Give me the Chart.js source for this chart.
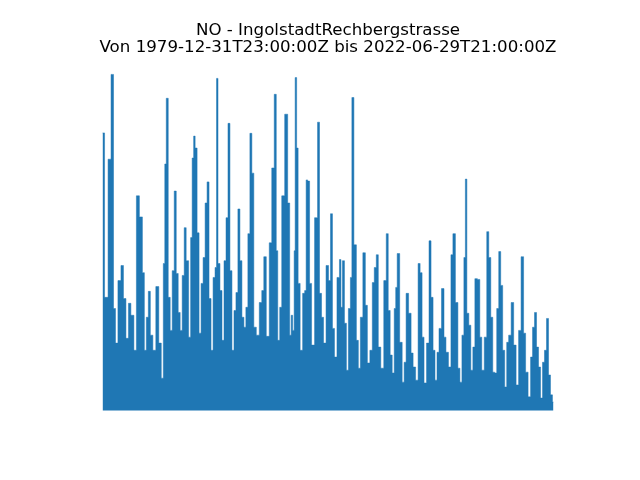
<!DOCTYPE html>
<html>
<head>
<meta charset="utf-8">
<script src="https://cdn.jsdelivr.net/npm/chart.js@4"></script>
<style>
  body { margin: 0; background: #fff; }
  #wrap { width: 640px; height: 480px; }
</style>
</head>
<body>
<div id="wrap"><canvas id="noChart" width="640" height="480"></canvas></div>
<script>
// Title lines
const titleLines = [
  "NO - IngolstadtRechbergstrasse",
  "Von 1979-12-31T23:00:00Z bis 2022-06-29T21:00:00Z"
];

// Upper outline of the hourly NO series (decimal year, value)
const noYears = [
  1980.00, 1980.38, 1980.66, 1980.94, 1981.13, 1981.31, 1981.59, 1981.88, 1982.06, 1982.35,
  1982.53, 1982.81, 1983.10, 1983.28, 1983.66, 1983.85, 1984.03, 1984.22, 1984.41, 1984.60,
  1984.88, 1985.16, 1985.44, 1985.63, 1985.82, 1985.91, 1986.10, 1986.28, 1986.47, 1986.66,
  1986.85, 1987.04, 1987.22, 1987.41, 1987.60, 1987.79, 1987.97, 1988.25, 1988.35, 1988.54,
  1988.63, 1988.82, 1989.00, 1989.19, 1989.38, 1989.57, 1989.76, 1989.94, 1990.13, 1990.32,
  1990.51, 1990.69, 1990.79, 1990.97, 1991.16, 1991.35, 1991.54, 1991.73, 1991.91, 1992.10,
  1992.29, 1992.48, 1992.66, 1992.85, 1993.04, 1993.23, 1993.41, 1993.60, 1993.79, 1993.98,
  1994.16, 1994.35, 1994.63, 1994.91, 1995.10, 1995.29, 1995.57, 1995.85, 1996.04, 1996.32,
  1996.42, 1996.60, 1996.79, 1996.98, 1997.35, 1997.54, 1997.73, 1997.82, 1998.01, 1998.10,
  1998.20, 1998.38, 1998.48, 1998.76, 1998.95, 1999.14, 1999.23, 1999.42, 1999.60, 1999.79,
  2000.17, 2000.35, 2000.54, 2000.73, 2000.92, 2001.20, 2001.39, 2001.57, 2001.76, 2001.95,
  2002.23, 2002.42, 2002.51, 2002.70, 2002.89, 2003.07, 2003.26, 2003.45, 2003.54, 2003.83,
  2004.01, 2004.20, 2004.39, 2004.67, 2004.86, 2005.05, 2005.33, 2005.51, 2005.70, 2005.89,
  2006.08, 2006.36, 2006.64, 2006.83, 2007.01, 2007.20, 2007.39, 2007.58, 2007.67, 2007.86,
  2008.14, 2008.33, 2008.51, 2008.70, 2008.98, 2009.17, 2009.36, 2009.64, 2009.83, 2010.02,
  2010.20, 2010.39, 2010.67, 2010.86, 2011.05, 2011.24, 2011.42, 2011.61, 2011.80, 2012.08,
  2012.27, 2012.45, 2012.74, 2012.92, 2013.11, 2013.39, 2013.58, 2013.77, 2013.96, 2014.14,
  2014.24, 2014.42, 2014.61, 2014.80, 2014.99, 2015.18, 2015.46, 2015.64, 2015.83, 2016.11,
  2016.30, 2016.49, 2016.68, 2016.86, 2017.05, 2017.24, 2017.43, 2017.61, 2017.80, 2017.99,
  2018.18, 2018.36, 2018.65, 2018.83, 2019.11, 2019.30, 2019.58, 2019.77, 2019.96, 2020.24,
  2020.43, 2020.61, 2020.80, 2020.99, 2021.18, 2021.37, 2021.55, 2021.74, 2021.93, 2022.12,
  2022.30, 2022.49
];
const noValues = [
  697, 284, 631, 844, 256, 169, 326, 364, 281, 181,
  269, 239, 151, 539, 486, 346, 151, 234, 299, 189,
  151, 311, 169, 81, 369, 619, 784, 284, 201, 351,
  551, 344, 246, 201, 339, 459, 376, 184, 434, 634,
  689, 659, 446, 194, 319, 384, 521, 574, 281, 151,
  334, 359, 834, 369, 301, 176, 376, 484, 721, 351,
  151, 251, 296, 506, 376, 234, 209, 259, 444, 696,
  596, 209, 189, 271, 301, 386, 186, 421, 609, 794,
  401, 176, 259, 539, 744, 521, 189, 239, 201, 401,
  836, 659, 319, 151, 294, 301, 579, 576, 319, 164,
  484, 724, 294, 234, 169, 364, 326, 494, 206, 134,
  334, 379, 259, 376, 219, 101, 256, 334, 786, 416,
  176, 106, 234, 396, 264, 119, 151, 321, 359, 391,
  159, 106, 326, 444, 251, 139, 94, 256, 309, 394,
  171, 71, 121, 294, 244, 144, 109, 76, 369, 346,
  184, 69, 169, 426, 284, 151, 76, 146, 206, 306,
  184, 146, 109, 391, 444, 271, 106, 71, 189, 384,
  581, 244, 214, 101, 159, 331, 329, 184, 101, 184,
  449, 384, 234, 96, 94, 256, 399, 314, 151, 59,
  171, 189, 271, 164, 64, 201, 386, 194, 96, 34,
  134, 209, 246, 159, 109, 31, 121, 151, 231, 89,
  39, 21
];

const n = noValues.length;
const points = noYears.map((yr, i) => ({ x: yr, y: noValues[i] }));

// matplotlib style 5% margins
const xLo = noYears[0], xHi = noYears[n - 1];
const yLo = Math.min(0, ...noValues), yHi = Math.max(...noValues);
const xPad = (xHi - xLo) * 0.05, yPad = (yHi - yLo) * 0.05;

// Two line title, centered over the plot area
const titlePlugin = {
  id: 'titleLines',
  afterDraw(chart) {
    const ctx = chart.ctx;
    const cx = (chart.chartArea.left + chart.chartArea.right) / 2;
    ctx.save();
    ctx.fillStyle = '#000';
    ctx.font = '16.67px "DejaVu Sans"';
    ctx.textAlign = 'center';
    ctx.textBaseline = 'alphabetic';
    ctx.fillText(titleLines[0], cx, 35);
    ctx.fillText(titleLines[1], cx, 51.5);
    ctx.restore();
  }
};

const ctx = document.getElementById('noChart').getContext('2d');
new Chart(ctx, {
  type: 'line',
  data: {
    datasets: [{
      label: 'NO',
      data: points,
      borderColor: '#1f77b4',
      backgroundColor: '#1f77b4',
      borderWidth: 0.5,
      pointRadius: 0,
      stepped: 'middle',
      fill: 'origin'
    }]
  },
  options: {
    responsive: false,
    animation: false,
    layout: { padding: { left: 80, right: 64, top: 57.6, bottom: 52.8 } },
    plugins: {
      legend: { display: false },
      tooltip: { enabled: false },
      title: { display: false }
    },
    scales: {
      x: { type: 'linear', display: false, min: xLo - xPad, max: xHi + xPad },
      y: { type: 'linear', display: false, min: yLo - yPad, max: yHi + yPad }
    }
  },
  plugins: [titlePlugin]
});
</script>
</body>
</html>
